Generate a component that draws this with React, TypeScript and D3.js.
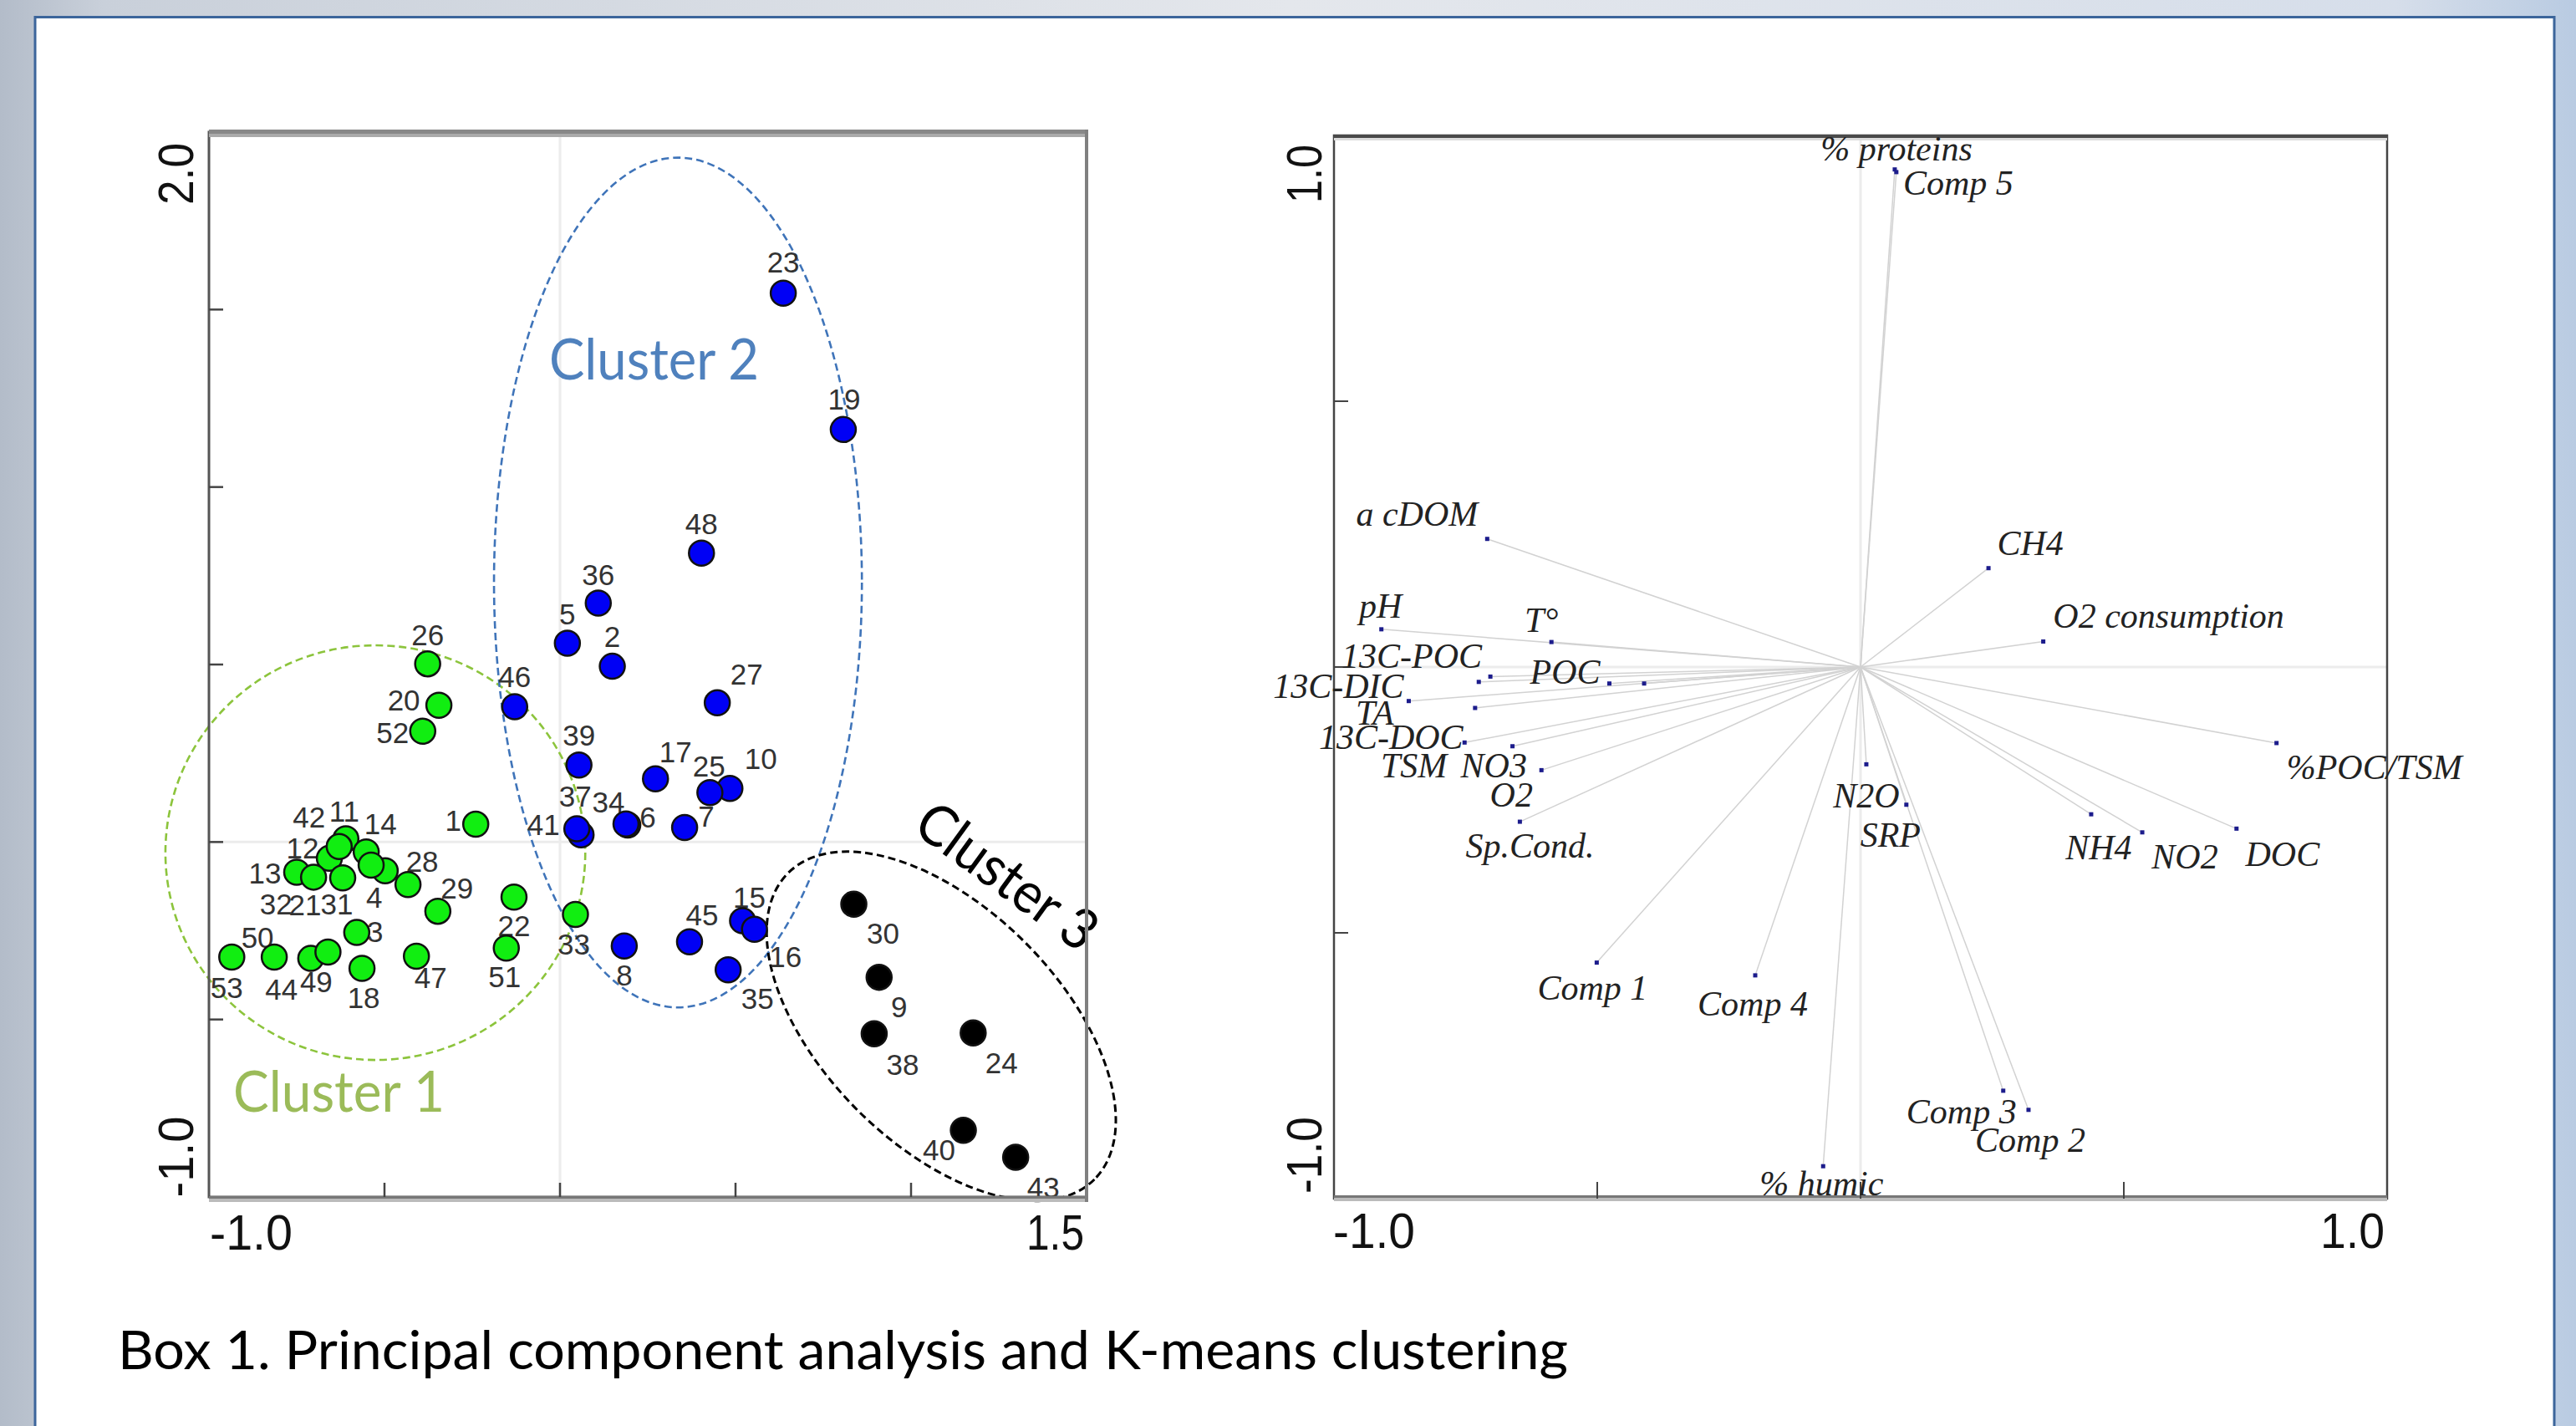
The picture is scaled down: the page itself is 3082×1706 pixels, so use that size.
import React from 'react'
import * as d3 from 'd3'

// left panel: PCA scores of the 53 samples, k-means cluster of each
const sampleIds = ['1', '2', '3', '4', '5', '6', '7', '8', '9', '10', '11', '12', '13', '14', '15', '16', '17', '18', '19', '20',
  '21', '22', '23', '24', '25', '26', '27', '28', '29', '30', '31', '32', '33', '34', '35', '36', '37', '38', '39', '40',
  '41', '42', '43', '44', '45', '46', '47', '48', '49', '50', '51', '52', '53']
const pc1 = [-0.240, 0.149, -0.579, -0.498, 0.021, 0.193, 0.355, 0.183, 0.909, 0.484,
  -0.610, -0.657, -0.750, -0.552, 0.520, 0.554, 0.272, -0.564, 0.807, -0.345,
  -0.619, -0.131, 0.636, 1.177, 0.427, -0.377, 0.448, -0.433, -0.348, 0.837,
  -0.538, -0.702, 0.044, 0.188, 0.479, 0.109, 0.060, 0.895, 0.054, 1.149,
  0.048, -0.629, 1.298, -0.710, 0.369, -0.129, -0.409, 0.403, -0.661, -0.814,
  -0.153, -0.391, -0.935]
const pc2 = [0.050, 0.495, -0.255, -0.081, 0.560, 0.048, 0.041, -0.293, -0.381, 0.151,
  0.009, -0.046, -0.085, -0.028, -0.222, -0.246, 0.178, -0.356, 1.162, 0.385,
  -0.101, -0.155, 1.546, -0.538, 0.139, 0.502, 0.392, -0.120, -0.195, -0.175,
  -0.065, -0.099, -0.204, 0.051, -0.360, 0.673, 0.020, -0.540, 0.217, -0.812,
  0.037, -0.013, -0.888, -0.328, -0.281, 0.381, -0.322, 0.814, -0.310, -0.324,
  -0.299, 0.312, -0.324]
const kCluster = [1, 2, 1, 1, 2, 2, 2, 2, 3, 2, 1, 1, 1, 1, 2, 2, 2, 1, 2, 1,
  1, 1, 2, 3, 2, 1, 2, 1, 1, 3, 1, 1, 1, 2, 2, 2, 2, 3, 2, 3,
  2, 1, 3, 1, 2, 2, 1, 2, 1, 1, 1, 1, 1]

// cluster outlines (data units, angle in degrees)
const clusterNames = ['Cluster 1', 'Cluster 2', 'Cluster 3']
const clusterCx = [-0.526, 0.336, 1.086]
const clusterCy = [-0.030, 0.731, -0.519]
const clusterRx = [0.598, 0.524, 0.617]
const clusterRy = [0.584, 1.197, 0.334]
const clusterAngle = [0, 0, 45]

// right panel: variable loadings
const varNames = ['% proteins', 'Comp 5', 'a cDOM', 'CH4', 'O2 consumption', 'pH', 'T°', '13C-POC', '13C-DIC', 'TA',
  'POC', '', '13C-DOC', 'TSM', 'NO3', 'O2', 'Sp.Cond.', 'N2O', 'SRP', '%POC/TSM',
  'NH4', 'NO2', 'DOC', 'Comp 1', 'Comp 4', 'Comp 3', 'Comp 2', '% humic']
const load1 = [0.065, 0.068, -0.709, 0.243, 0.347, -0.910, -0.587, -0.703, -0.858, -0.732,
  -0.477, -0.411, -0.752, -0.661, -0.606, -0.725, -0.647, 0.011, 0.087, 0.790,
  0.438, 0.535, 0.714, -0.501, -0.200, 0.271, 0.319, -0.071]
const load2 = [0.936, 0.931, 0.241, 0.186, 0.048, 0.071, 0.047, -0.018, -0.064, -0.077,
  -0.031, -0.031, -0.142, -0.149, -0.194, -0.028, -0.291, -0.183, -0.259, -0.143,
  -0.277, -0.311, -0.304, -0.556, -0.580, -0.797, -0.833, -0.939]

// label placement nudges (px)
const sampleNudge = [[-27, -4], [0, -35], [22, -1], [-13, 32], [0, -35], [24, -9], [26, -13], [0, 35], [24, 36], [37, -35],
  [-2, -33], [-32, -12], [-38, 1], [17, -33], [8, -28], [37, 33], [24, -32], [2, 35], [1, -36], [-42, -6],
  [-45, 33], [0, 35], [0, -37], [34, 36], [-1, -32], [0, -34], [35, -34], [17, -28], [23, -27], [35, 35],
  [-41, 47], [-45, 32], [-2, 36], [-21, -26], [35, 35], [0, -34], [-7, -46], [34, 37], [0, -35], [-29, 24],
  [-40, -5], [-36, -35], [33, 36], [-35, 37], [15, -32], [0, -36], [17, 26], [0, -35], [-14, 36], [-20, -23],
  [-2, 34], [-36, 2], [-6, 37]]
const varNudge = [[2, -25], [74, 13], [-84, -30], [50, -30], [150, -30], [-1, -28], [-12, -26], [-94, -24], [-84, -18], [-120, 6],
  [-53, -14], [0, 0], [-88, -6], [-118, 23], [-57, -5], [39, 135], [12, 29], [0, 38], [-19, 36], [117, 29],
  [9, 40], [51, 29], [55, 31], [-5, 31], [-3, 34], [-50, 25], [2, 36], [-2, 21]]

const W = 3082, H = 1706
const fill = ['#11ee11', '#0000f5', '#000000']
const outline = ['#8cc43c', '#3f74b9', '#000000']
const textCol = ['#9bbb59', '#4f81bd', '#000000']

export default function App() {
  const xL = d3.scaleLinear().domain([-1, 1.5]).range([250, 1300])
  const yL = d3.scaleLinear().domain([-1, 2]).range([1432, 158])
  const xR = d3.scaleLinear().domain([-1, 1]).range([1596, 2856])
  const yR = d3.scaleLinear().domain([-1, 1]).range([1434, 162])
  const kx = xL(1) - xL(0), ky = yL(0) - yL(1)

  const ticksXL = xL.ticks(5).filter(t => t > -1 && t < 1.5)
  const ticksYL = yL.ticks(6).filter(t => t > -1 && t < 2)
  const ticksXR = xR.ticks(4).filter(t => t > -1 && t < 1)
  const ticksYR = yR.ticks(4).filter(t => t > -1 && t < 1)

  const num = { fontFamily: 'Liberation Sans, Arial, sans-serif', fontSize: 60, fill: '#111' }

  return (
    <svg width={W} height={H} style={{ position: 'absolute', left: 0, top: 0, display: 'block' }}>
      <defs>
        <linearGradient id="bg" x1="0" x2="1" y1="0" y2="0">
          <stop offset="0" stopColor="#b3bcc9" />
          <stop offset="0.04" stopColor="#c9d0da" />
          <stop offset="0.5" stopColor="#e4e7ec" />
          <stop offset="0.93" stopColor="#d6deea" />
          <stop offset="1" stopColor="#b9cbe2" />
        </linearGradient>
      </defs>
      <rect width={W} height={H} fill="url(#bg)" />
      <rect x={42} y={20.5} width={3014} height={H} fill="#fff" stroke="#3c659b" strokeWidth={3} />

      {/* ---- left: scores ---- */}
      <line x1={xL(0)} x2={xL(0)} y1={yL(2)} y2={yL(-1)} stroke="#ececec" strokeWidth={3} />
      <line x1={xL(-1)} x2={xL(1.5)} y1={yL(0)} y2={yL(0)} stroke="#ececec" strokeWidth={3} />

      {clusterNames.map((c, i) => (
        <ellipse key={c} cx={xL(clusterCx[i])} cy={yL(clusterCy[i])}
          rx={clusterRx[i] * kx} ry={clusterRy[i] * ky}
          transform={`rotate(${clusterAngle[i]},${xL(clusterCx[i])},${yL(clusterCy[i])})`}
          fill="none" stroke={outline[i]} strokeWidth={i === 2 ? 3 : 2.6} strokeDasharray="9 5" />
      ))}

      {sampleIds.map((id, i) => (
        <text key={'l' + id} x={xL(pc1[i]) + sampleNudge[i][0]} y={yL(pc2[i]) + sampleNudge[i][1]}
          dy="0.35em" textAnchor="middle" fontFamily="Liberation Sans, Arial, sans-serif" fontSize={35} fill="#333">{id}</text>
      ))}
      {sampleIds.map((id, i) => (
        <circle key={'p' + id} cx={xL(pc1[i])} cy={yL(pc2[i])} r={15}
          fill={fill[kCluster[i] - 1]} stroke="#111" strokeWidth={2.5} />
      ))}

      <text x={xL(-0.031)} y={yL(1.303)} fontFamily="Lato, sans-serif" fontSize={68} fill={textCol[1]}
        textLength={251} lengthAdjust="spacingAndGlyphs">{clusterNames[1]}</text>
      <text x={xL(-0.931)} y={yL(-0.760)} fontFamily="Lato, sans-serif" fontSize={68} fill={textCol[0]}
        textLength={253} lengthAdjust="spacingAndGlyphs">{clusterNames[0]}</text>
      <text x={xL(1.274)} y={yL(-0.096)} dy="0.35em" textAnchor="middle" fontFamily="Lato, sans-serif" fontSize={68}
        fill={textCol[2]} textLength={250} lengthAdjust="spacingAndGlyphs"
        transform={`rotate(36,${xL(1.274)},${yL(-0.096)})`}>{clusterNames[2]}</text>

      <rect x={250} y={158} width={1050} height={1274} fill="none" stroke="#555" strokeWidth={3} />
      <rect x={250} y={155} width={1050} height={5} fill="#888" />
      <rect x={250} y={160} width={1050} height={4} fill="#aaa" />
      <rect x={250} y={1431} width={1050} height={3} fill="#777" />
      <rect x={250} y={1434} width={1050} height={4} fill="#bbb" />
      <rect x={1298} y={155} width={4} height={1283} fill="#808080" />
      {ticksXL.map(t => <line key={'tx' + t} x1={xL(t)} x2={xL(t)} y1={1432} y2={1415} stroke="#444" strokeWidth={2.5} />)}
      {ticksYL.map(t => <line key={'ty' + t} x1={250} x2={267} y1={yL(t)} y2={yL(t)} stroke="#444" strokeWidth={2.5} />)}

      <text {...num} x={251} y={1495} textLength={99} lengthAdjust="spacingAndGlyphs">-1.0</text>
      <text {...num} x={1297} y={1495} textAnchor="end" textLength={69} lengthAdjust="spacingAndGlyphs">1.5</text>
      <text {...num} x={231} y={208} textAnchor="middle" textLength={74} lengthAdjust="spacingAndGlyphs"
        transform="rotate(-90,231,208)">2.0</text>
      <text {...num} x={231} y={1384} textAnchor="middle" textLength={97} lengthAdjust="spacingAndGlyphs"
        transform="rotate(-90,231,1384)">-1.0</text>

      {/* ---- right: loadings ---- */}
      <line x1={xR(0)} x2={xR(0)} y1={yR(1)} y2={yR(-1)} stroke="#ececec" strokeWidth={3} />
      <line x1={xR(-1)} x2={xR(1)} y1={yR(0)} y2={yR(0)} stroke="#ececec" strokeWidth={3} />
      {varNames.map((v, i) => (
        <line key={'v' + i} x1={xR(0)} y1={yR(0)} x2={xR(load1[i])} y2={yR(load2[i])} stroke="#d2d2d2" strokeWidth={1.5} />
      ))}
      {varNames.map((v, i) => (
        <rect key={'d' + i} x={xR(load1[i]) - 2.5} y={yR(load2[i]) - 2.5} width={5} height={5} fill="#1c1c8c" />
      ))}

      <rect x={1596} y={162} width={1260} height={1272} fill="none" stroke="#444" strokeWidth={2.5} />
      <rect x={1596} y={161} width={1260} height={4} fill="#4a4a4a" />
      <rect x={1596} y={165} width={1260} height={3} fill="#dcdcdc" />
      <rect x={1596} y={1430} width={1260} height={3} fill="#777" />
      <rect x={1596} y={1433} width={1260} height={4} fill="#bbb" />
      {ticksXR.map(t => <line key={'rx' + t} x1={xR(t)} x2={xR(t)} y1={1434} y2={1414} stroke="#444" strokeWidth={2} />)}
      {ticksYR.map(t => <line key={'ry' + t} x1={1596} x2={1613} y1={yR(t)} y2={yR(t)} stroke="#444" strokeWidth={2} />)}

      {varNames.map((v, i) => (
        <text key={'t' + i} x={xR(load1[i]) + varNudge[i][0]} y={yR(load2[i]) + varNudge[i][1]} dy="0.33em"
          textAnchor="middle" fontFamily="Liberation Serif, Times New Roman, serif" fontStyle="italic"
          fontSize={42} fill="#222">{v}</text>
      ))}

      <text {...num} x={1595} y={1493} textLength={98} lengthAdjust="spacingAndGlyphs">-1.0</text>
      <text {...num} x={2853} y={1493} textAnchor="end" textLength={77} lengthAdjust="spacingAndGlyphs">1.0</text>
      <text {...num} x={1581} y={208} textAnchor="middle" textLength={70} lengthAdjust="spacingAndGlyphs"
        transform="rotate(-90,1581,208)">1.0</text>
      <text {...num} x={1581} y={1382} textAnchor="middle" textLength={92} lengthAdjust="spacingAndGlyphs"
        transform="rotate(-90,1581,1382)">-1.0</text>

      <text x={141} y={1638} fontFamily="Lato, sans-serif" fontSize={63} fill="#000"
        textLength={1735} lengthAdjust="spacingAndGlyphs">Box 1. Principal component analysis and K-means clustering</text>
    </svg>
  )
}
